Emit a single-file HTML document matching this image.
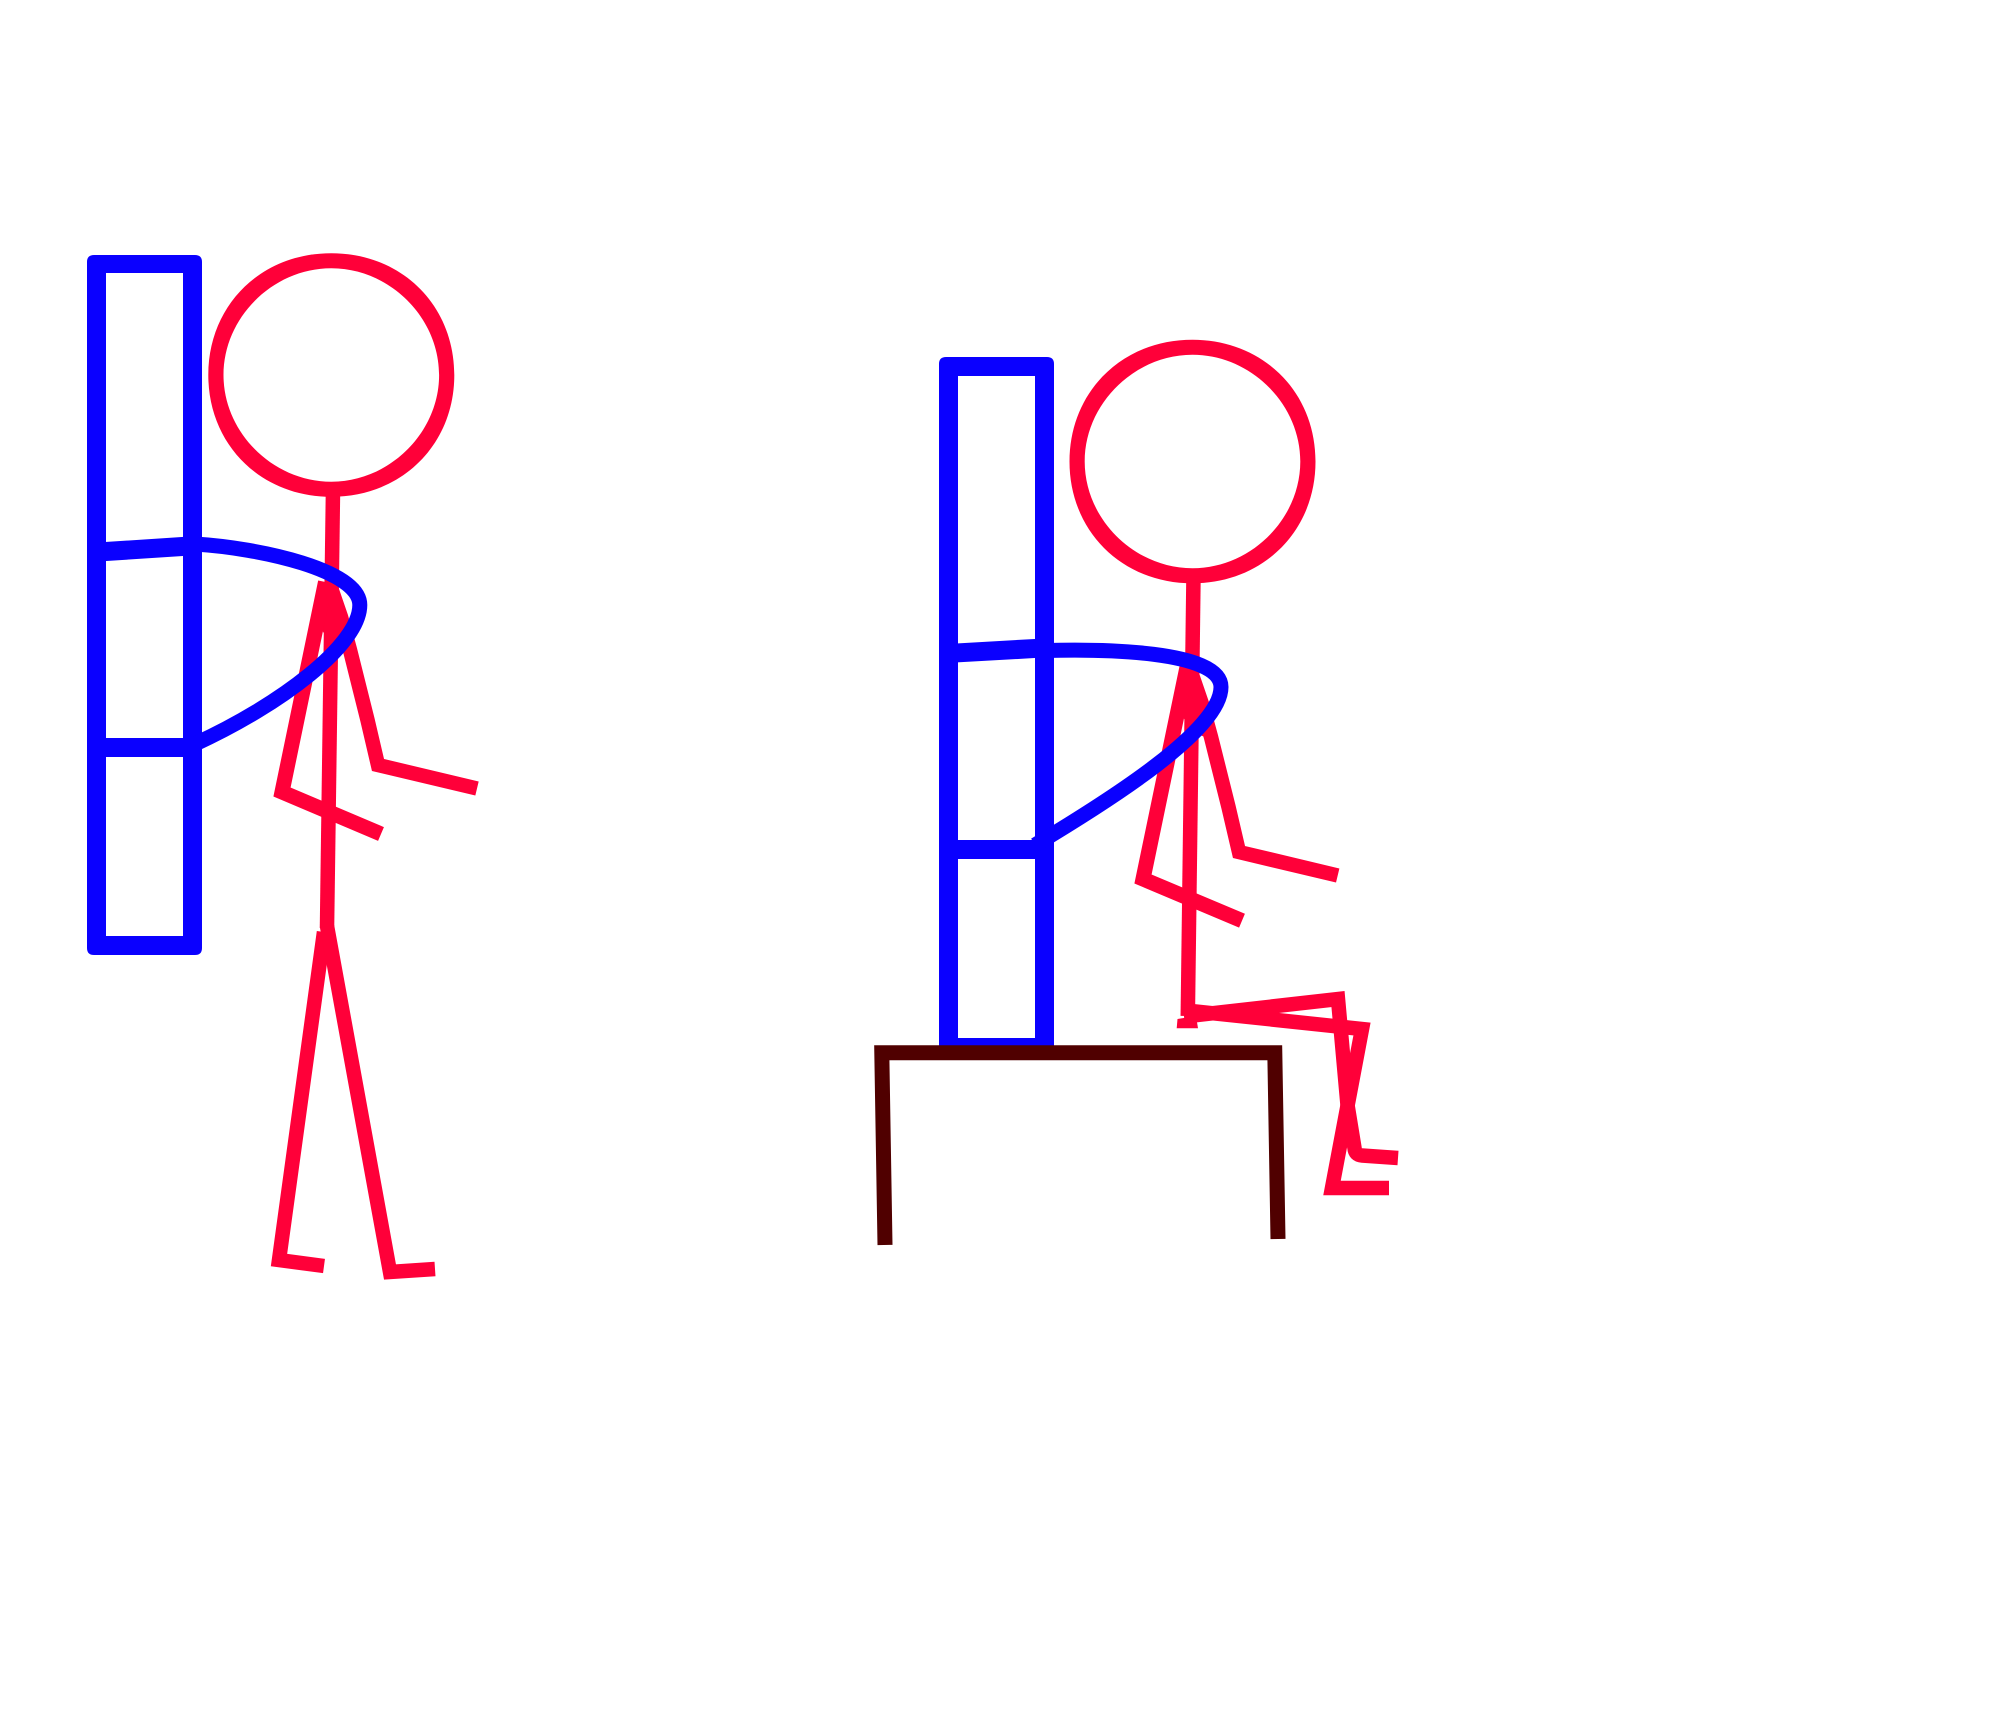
<!DOCTYPE html>
<html lang="en">
<head>
<meta charset="utf-8">
<title>Stick figures with blue frames</title>
<style>
html,body{margin:0;padding:0;background:#fff;}
svg{display:block;}
.red{fill:none;stroke:#ff0039;stroke-width:14.5;stroke-linejoin:miter;stroke-linecap:butt;}
.blue{fill:none;stroke:#0a00ff;stroke-width:15;stroke-linecap:butt;}
</style>
</head>
<body>
<svg xmlns="http://www.w3.org/2000/svg" width="2000" height="1720" viewBox="0 0 2000 1720">
  <rect x="0" y="0" width="2000" height="1720" fill="#ffffff"/>

  <g>
    <path fill="#ff0039" fill-rule="evenodd" d="M331.3 253.2 C401.7 253.2 454.3 305.3 454.3 375 C454.3 444.7 401.7 496.8 331.3 496.8 C260.9 496.8 208.3 444.7 208.3 375 C208.3 305.3 260.9 253.2 331.3 253.2 Z M331.3 268.3 C389.5 268.3 439.1 317.4 439.1 375 C439.1 432.6 389.5 481.7 331.3 481.7 C273.1 481.7 223.5 432.6 223.5 375 C223.5 317.4 273.1 268.3 331.3 268.3 Z"/>
    <polygon fill="#ff0039" points="325,582 339,595 344,650 331,645 322,630"/>
    <path class="red" d="M333 490 L327 928"/>
    <path class="red" style="stroke-width:15" d="M325.5 582 L282 792 L381 834"/>
    <path class="red" d="M330 585 L341 617 L350 650 L367.5 720 L378 765 L477 788.5"/>
    <path class="red" d="M324 932 L279 1260 L324 1266"/>
    <path class="red" d="M327 926 L390 1272 L435 1269"/>
    <path fill="#0a00ff" fill-rule="evenodd" d="M94 255 H195 Q202 255 202 262 V948 Q202 955 195 955 H94 Q87 955 87 948 V262 Q87 255 94 255 Z M106 273 V936 H183 V273 Z"/>
    <path class="blue" style="stroke-width:19" d="M100 551.9 L190 546"/>
    <path class="blue" style="stroke-width:19" d="M100 747.5 H190"/>
    <path class="blue" d="M195 544 C260 548 359.8 570 359.8 605 C359.8 645 280 705 195 744"/>
  </g>

  <g>
    <path transform="translate(861.2 86.5)" fill="#ff0039" fill-rule="evenodd" d="M331.3 253.2 C401.7 253.2 454.3 305.3 454.3 375 C454.3 444.7 401.7 496.8 331.3 496.8 C260.9 496.8 208.3 444.7 208.3 375 C208.3 305.3 260.9 253.2 331.3 253.2 Z M331.3 268.3 C389.5 268.3 439.1 317.4 439.1 375 C439.1 432.6 389.5 481.7 331.3 481.7 C273.1 481.7 223.5 432.6 223.5 375 C223.5 317.4 273.1 268.3 331.3 268.3 Z"/>
    <polygon fill="#ff0039" points="1186,669 1200,682 1205,737 1192,732 1183,717"/>
    <path class="red" d="M1193.5 576 L1187.8 1016"/>
    <path class="red" style="stroke-width:15" d="M1187 667 L1143 879 L1242 920.7"/>
    <path class="red" d="M1191 672 L1202 704 L1211 737 L1228.5 807 L1239 852 L1337.7 875.5"/>
    <polygon fill="#ff0039" points="1177.5,1019 1176.7,1028.3 1198,1028.3 1196,1016"/>
    <path class="red" d="M1186 1010.4 L1362 1029 L1332 1188 L1389 1188"/>
    <path class="red" d="M1184 1016.5 L1338 999 L1347.5 1105 L1354.5 1148 Q1355 1155 1362 1155.5 L1398 1158"/>
    <path fill="#0a00ff" fill-rule="evenodd" d="M946 357 H1047 Q1054 357 1054 364 V1050 H939 V364 Q939 357 946 357 Z M958 376 V1038 H1035 V376 Z"/>
    <path class="blue" style="stroke-width:19" d="M950 653.3 L1040 648.2"/>
    <path class="blue" style="stroke-width:19" d="M950 849.5 H1040"/>
    <path class="blue" d="M1045 650.5 C1100 649 1221 650 1221 687 C1221 730 1110 800 1035 845"/>
    <path fill="none" stroke="#500000" stroke-width="15" stroke-linejoin="miter" d="M885 1245 L881.8 1052.8 H1274.8 L1278 1239"/>
  </g>
</svg>
</body>
</html>
